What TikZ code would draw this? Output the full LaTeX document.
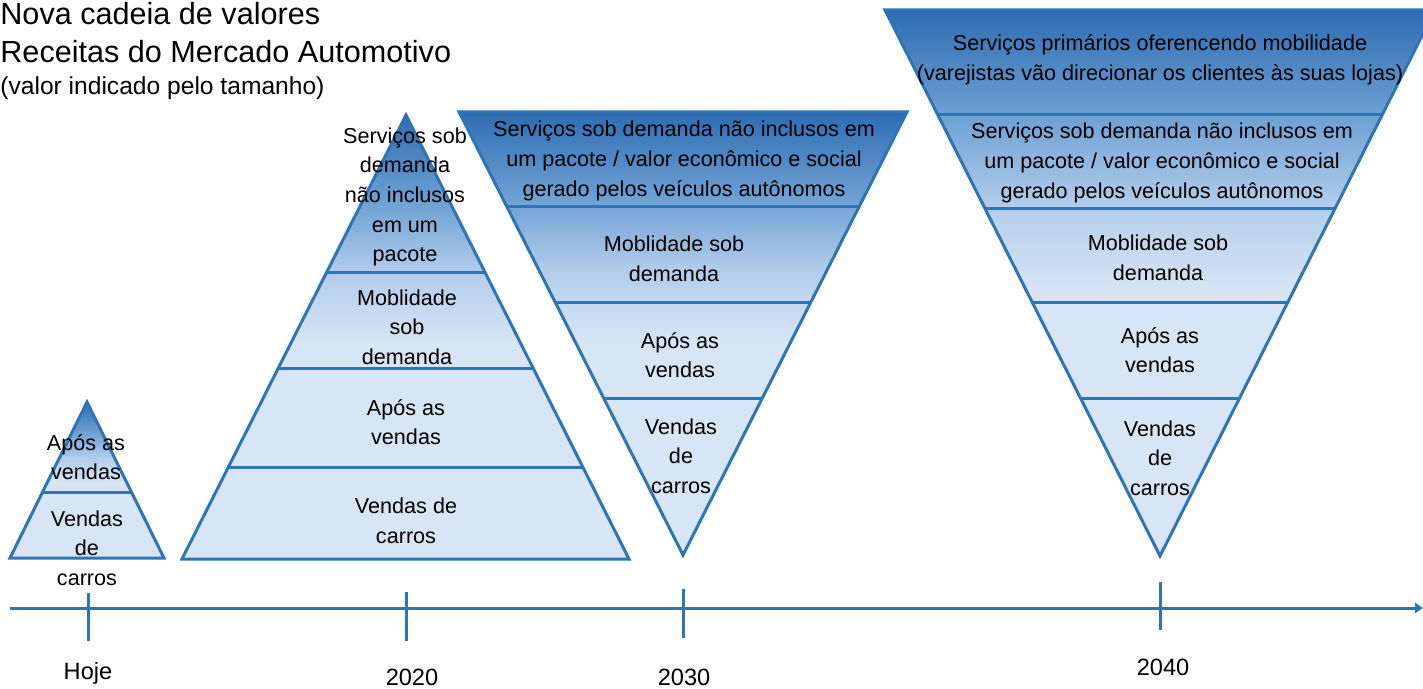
\documentclass[tikz,border=0pt]{standalone}
\usepackage{fontspec}
\setmainfont{Liberation Sans}
\usetikzlibrary{calc,arrows.meta}
\definecolor{edgeblue}{RGB}{46,117,182}
\definecolor{darkblue}{RGB}{46,108,178}
\definecolor{midblue}{RGB}{112,162,212}
\definecolor{paleblue}{RGB}{180,205,235}
\definecolor{lightblue}{RGB}{216,229,246}
\pgfdeclareverticalshading{layerfill}{100bp}{color(0bp)=(lightblue); color(49bp)=(lightblue); color(57bp)=(paleblue); color(65bp)=(midblue); color(75bp)=(darkblue); color(100bp)=(darkblue)}
\tikzset{
	layer/.style={draw=edgeblue, line width=1.5pt, shading=layerfill},
	divider/.style={draw=edgeblue, line width=1.5pt},
	axisline/.style={draw=edgeblue, line width=1.5pt},
	layertext/.style={align=center, inner sep=0pt, yshift=-1pt, font=\fontsize{10.8}{14.8}\selectfont},
	titletext/.style={inner sep=0pt, font=\fontsize{15.3}{18}\selectfont},
	subtext/.style={inner sep=0pt, font=\fontsize{12.3}{15}\selectfont},
	yeartext/.style={inner sep=0pt, font=\fontsize{11.8}{14}\selectfont}
}

\begin{document}
\begin{tikzpicture}[x=0.5pt,y=-0.5pt]
	\useasboundingbox (0,0) rectangle (1423,689);

	\node[titletext, anchor=base west] (titulo) at (0,25) {Nova cadeia de valores};
	\node[titletext, anchor=base west] (receitas) at (0,63) {Receitas do Mercado Automotivo};
	\node[subtext, anchor=base west] (escala) at (0,95) {(valor indicado pelo tamanho)};

	% Hoje
	\coordinate (hojetop) at (87,402);
	\coordinate (hojeL) at (10,558);
	\coordinate (hojeR) at (164,558);
	\path[layer] (hojetop) -- (hojeL) -- (hojeR) -- cycle;
	\draw[divider] ($(hojetop)!0.583!(hojeL)$) -- ($(hojetop)!0.583!(hojeR)$);
	\node[layertext] (hojeapos) at (86,455) {Após as\\vendas};
	\node[layertext] (hojevendas) at (87,546) {Vendas\\de\\carros};

	% 2020
	\coordinate (vintetop) at (406,115);
	\coordinate (vinteL) at (182,559);
	\coordinate (vinteR) at (629,559);
	\path[layer] (vintetop) -- (vinteL) -- (vinteR) -- cycle;
	\foreach \t in {0.354,0.570,0.793}
		\draw[divider] ($(vintetop)!\t!(vinteL)$) -- ($(vintetop)!\t!(vinteR)$);
	\node[layertext] (vinteservicos) at (405,195) {Serviços sob\\demanda\\não inclusos\\em um\\pacote};
	\node[layertext] (vintemob) at (407,325) {Moblidade\\sob\\demanda};
	\node[layertext] (vinteapos) at (406,420) {Após as\\vendas};
	\node[layertext] (vintevendas) at (406,519) {Vendas de\\carros};

	% 2030
	\coordinate (trintabot) at (683,555);
	\coordinate (trintaL) at (459,112);
	\coordinate (trintaR) at (907,112);
	\path[layer] (trintabot) -- (trintaL) -- (trintaR) -- cycle;
	\foreach \t in {0.786,0.571,0.354}
		\draw[divider] ($(trintabot)!\t!(trintaL)$) -- ($(trintabot)!\t!(trintaR)$);
	\node[layertext] (trintaservicos) at (684,159) {Serviços sob demanda não inclusos em\\um pacote / valor econômico e social\\gerado pelos veículos autônomos};
	\node[layertext] (trintamob) at (674,257) {Moblidade sob\\demanda};
	\node[layertext] (trintaapos) at (680,353) {Após as\\vendas};
	\node[layertext] (trintavendas) at (681,454) {Vendas\\de\\carros};

	% 2040
	\coordinate (quarentabot) at (1160,556);
	\coordinate (quarentaL) at (885,10);
	\coordinate (quarentaR) at (1435,10);
	\path[layer] (quarentabot) -- (quarentaL) -- (quarentaR) -- cycle;
	\foreach \t in {0.808,0.637,0.465,0.289}
		\draw[divider] ($(quarentabot)!\t!(quarentaL)$) -- ($(quarentabot)!\t!(quarentaR)$);
	\node[layertext] (quarentaprim) at (1160,58) {Serviços primários oferencendo mobilidade\\(varejistas vão direcionar os clientes às suas lojas)};
	\node[layertext] (quarentaservicos) at (1162,161) {Serviços sob demanda não inclusos em\\um pacote / valor econômico e social\\gerado pelos veículos autônomos};
	\node[layertext] (quarentamob) at (1158,256) {Moblidade sob\\demanda};
	\node[layertext] (quarentaapos) at (1160,348) {Após as\\vendas};
	\node[layertext] (quarentavendas) at (1160,456) {Vendas\\de\\carros};

	% linha do tempo
	\coordinate (eixoinicio) at (10,608);
	\coordinate (eixofim) at (1423,608);
	\draw[axisline, -{Triangle[length=4pt,width=5pt]}] (eixoinicio) -- (eixofim);
	\foreach \x/\ya/\yb in {88/593/641, 406/592/641, 683/589/638, 1160/582/630}
		\draw[axisline] (\x,\ya) -- (\x,\yb);
	\node[yeartext] (hoje) at (88,673) {Hoje};
	\node[yeartext] (ano2020) at (412,677) {2020};
	\node[yeartext] (ano2030) at (684,677) {2030};
	\node[yeartext] (ano2040) at (1163,667) {2040};
\end{tikzpicture}
\end{document}
